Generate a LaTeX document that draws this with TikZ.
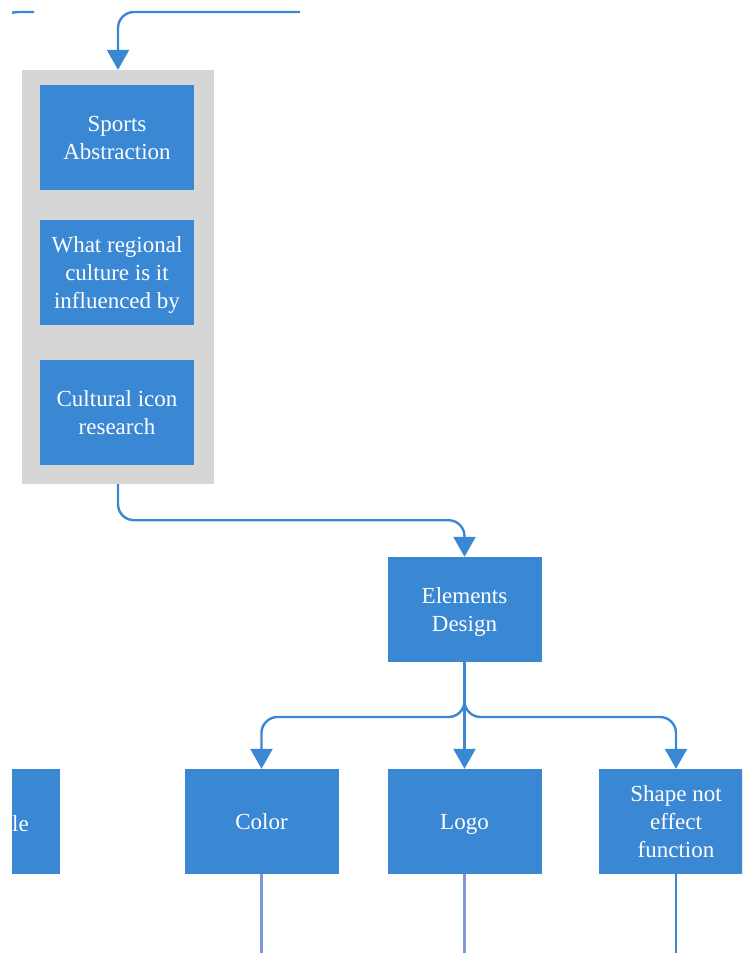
\documentclass[tikz,border=0pt]{standalone}
\usepackage{fontspec}
\setmainfont{Liberation Serif}
\usetikzlibrary{arrows.meta}
\definecolor{boxblue}{HTML}{3A87D4}
\definecolor{panelgray}{HTML}{D6D6D6}
\definecolor{paleline}{HTML}{7D98D4}
% first-line strut, a little taller so the text block sits slightly low
\newcommand\firstline{\rule{0pt}{25pt}}
\tikzset{
  block/.style={fill=boxblue, draw=none, text=white, minimum width=154pt,
    minimum height=105pt, inner sep=2pt, align=center,
    font=\fontsize{23}{28}\selectfont},
  link/.style={draw=boxblue, line width=2.4pt, rounded corners=16pt},
  linkarrow/.style={link, -{Triangle[width=22pt,length=20pt]}},
  tail/.style={line width=2.2pt}
}
\begin{document}
\begin{tikzpicture}[x=1pt,y=1pt]
\useasboundingbox (0,0) rectangle (742,-953);
\begin{scope}
\clip (12,0) rectangle (742,-953);

% panel with the three research boxes
\node[fill=panelgray, minimum width=192pt, minimum height=414pt, inner sep=0pt] (panel) at (118,-277) {};
\node[block] (sports) at (117,-137.5) {\firstline Sports\\\strut Abstraction};
\node[block] (region) at (117,-272.5) {\firstline What regional\\\strut culture is it\\\strut influenced by};
\node[block] (icon) at (117,-412) {\firstline Cultural icon\\\strut research};

% design stage
\node[block] (elem) at (464.5,-609.5) {\firstline Elements\\\strut Design};
\node[block] (color) at (261.5,-821.5) {\firstline Color\strut};
\node[block] (logo) at (464.5,-821.5) {\firstline Logo\strut};
\node[block] (shape) at (676,-821.5) {\firstline Shape not\\\strut effect\\\strut function};
\node[block] (side) at (-17,-821.5) {};
\node[text=white, font=\fontsize{23}{28}\selectfont, anchor=base east, inner sep=0pt] (sidetext) at (29,-831) {le};

% incoming connectors at the top
\coordinate (topstart) at (300,-12);
\draw[linkarrow] (topstart) -| (panel.north);
\coordinate (leftstart) at (34,-12);
\coordinate (leftend) at (-6,-60);
\draw[link, rounded corners=24pt] (leftstart) -| (leftend);

% panel to elements design
\draw[linkarrow] (panel.south) -- ++(0,-36) -| (elem.north);

% elements design to its three parts
\coordinate (fork) at (464.5,-717);
\draw[linkarrow] (elem.south) |- (fork) -| (color.north);
\draw[linkarrow] (elem.south) -- (logo.north);
\draw[linkarrow] (elem.south) |- (fork) -| (shape.north);

% outgoing lines at the bottom
\coordinate (colorend) at (261.5,-960);
\coordinate (logoend) at (464.5,-960);
\coordinate (shapeend) at (676,-960);
\draw[tail, paleline] (color.south) -- (colorend);
\draw[tail, paleline] (logo.south) -- (logoend);
\draw[tail, boxblue] (shape.south) -- (shapeend);
\end{scope}
\end{tikzpicture}
\end{document}
